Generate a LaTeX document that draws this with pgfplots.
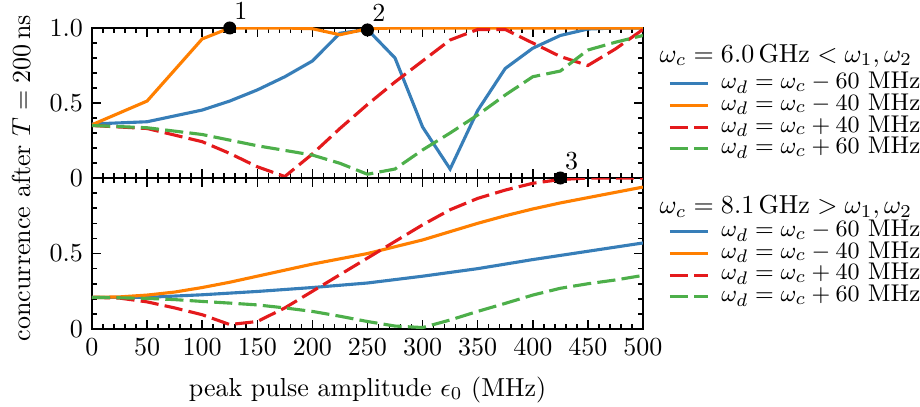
\documentclass[border=0pt]{standalone}
\usepackage{pgfplots}
\pgfplotsset{compat=1.18}
\definecolor{cB}{RGB}{55,126,184}
\definecolor{cO}{RGB}{255,127,0}
\definecolor{cR}{RGB}{228,26,28}
\definecolor{cG}{RGB}{77,175,74}
\begin{document}
\begin{tikzpicture}
\pgfplotsset{
  myax/.style={
    scale only axis, width=211.9pt, xmin=0, xmax=500,
    xtick={0,50,...,500}, minor x tick num=4, minor y tick num=4,
    xtick pos=both, ytick pos=both, tick align=inside,
    major tick length=3.5pt, minor tick length=2pt,
    axis line style={line width=1pt},
    tick style={black, line width=0.6pt},
    tick label style={font=\fontsize{10}{12}\selectfont},
    legend cell align=left,
    legend style={draw=none, fill=none, font=\fontsize{9.3}{11}\selectfont,
      anchor=north west, inner sep=0pt,
      nodes={inner sep=0pt, text height=5.8pt, text depth=2.1pt},
      column sep=4.6pt, row sep=0.45pt},
    legend image code/.code={\draw[##1] (0pt,0pt) -- (14.6pt,0pt);},
  },
  sB/.style={cB, line width=1.2pt},
  sO/.style={cO, line width=1.2pt},
  sR/.style={cR, line width=1.2pt, dash pattern=on 7pt off 2.4pt},
  sG/.style={cG, line width=1.2pt, dash pattern=on 7pt off 2.4pt},
}
\begin{axis}[myax, at={(0,0)}, anchor=south west, height=57.7pt,
  ymin=0, ymax=1, ytick={0,0.5,1}, yticklabels={0,0.5,1.0}, xticklabels={},
  legend style={at={(axis description cs:1.0453,0.70)}}]
\addplot[sB] coordinates {(0,0.36) (50,0.375) (100,0.453) (125,0.513) (150,0.587) (175,0.675) (200,0.78) (225,0.965) (250,0.99) (275,0.80) (300,0.34) (325,0.06) (350,0.45) (375,0.73) (400,0.865) (425,0.95) (450,0.993) (475,1) (500,1)};
\addplot[sO] coordinates {(0,0.355) (50,0.513) (100,0.927) (125,1) (150,1) (175,1) (200,0.995) (225,0.955) (250,0.995) (275,1) (300,1) (325,1) (350,1) (375,1) (400,1) (425,1) (450,1) (475,1) (500,1)};
\addplot[sR] coordinates {(0,0.35) (50,0.33) (100,0.242) (125,0.164) (150,0.075) (175,0.01) (200,0.16) (225,0.33) (250,0.49) (275,0.64) (300,0.78) (325,0.92) (350,0.99) (375,0.99) (400,0.90) (425,0.81) (450,0.75) (475,0.86) (500,0.99)};
\addplot[sG] coordinates {(0,0.35) (50,0.335) (100,0.29) (150,0.215) (200,0.153) (225,0.098) (250,0.025) (275,0.06) (300,0.187) (325,0.30) (350,0.42) (375,0.553) (400,0.675) (425,0.713) (450,0.853) (475,0.905) (500,0.95)};
\addplot[only marks, mark=*, mark size=2.3pt, black, forget plot] coordinates {(125,1) (250,0.987)};
\coordinate (m1) at (axis cs:125,1);
\coordinate (m2) at (axis cs:250,0.987);
\legend{$\omega_d = \omega_c - 60$ MHz, $\omega_d = \omega_c - 40$ MHz, $\omega_d = \omega_c + 40$ MHz, $\omega_d = \omega_c + 60$ MHz}
\end{axis}
\begin{axis}[myax, at={(0,0)}, anchor=north west, height=58.1pt,
  ymin=0, ymax=1, ytick={0,0.5,1}, yticklabels={0,0.5,{}},
  legend style={at={(axis description cs:1.0453,0.716)}}]
\addplot[sB] coordinates {(0,0.21) (50,0.21) (100,0.227) (150,0.249) (200,0.275) (250,0.305) (300,0.35) (350,0.40) (400,0.46) (450,0.515) (500,0.57)};
\addplot[sO] coordinates {(0,0.21) (25,0.213) (50,0.225) (75,0.245) (100,0.275) (125,0.31) (150,0.35) (175,0.39) (200,0.43) (225,0.465) (250,0.50) (275,0.545) (300,0.59) (325,0.645) (350,0.70) (375,0.75) (400,0.795) (425,0.835) (450,0.87) (475,0.905) (500,0.94)};
\addplot[sR] coordinates {(0,0.21) (25,0.205) (50,0.18) (75,0.14) (100,0.095) (125,0.03) (150,0.05) (175,0.14) (200,0.25) (225,0.36) (250,0.47) (275,0.58) (300,0.69) (325,0.79) (350,0.865) (375,0.92) (400,0.965) (425,0.99) (450,1) (475,1) (500,1)};
\addplot[sG] coordinates {(0,0.21) (25,0.207) (50,0.203) (75,0.195) (100,0.183) (125,0.172) (150,0.16) (175,0.14) (200,0.117) (225,0.085) (250,0.05) (275,0.02) (300,0.01) (325,0.06) (350,0.117) (375,0.17) (400,0.225) (425,0.27) (450,0.30) (475,0.325) (500,0.355)};
\addplot[only marks, mark=*, mark size=2.3pt, black, forget plot] coordinates {(425,1)};
\coordinate (m3) at (axis cs:425,1);
\legend{$\omega_d = \omega_c - 60$ MHz, $\omega_d = \omega_c - 40$ MHz, $\omega_d = \omega_c + 40$ MHz, $\omega_d = \omega_c + 60$ MHz}
\end{axis}
\node[font=\fontsize{10}{12}\selectfont] at ([xshift=4.3pt, yshift=6.6pt]m1) {1};
\node[font=\fontsize{10}{12}\selectfont] at ([xshift=4.4pt, yshift=6.6pt]m2) {2};
\node[font=\fontsize{10}{12}\selectfont] at ([xshift=4.4pt, yshift=6.6pt]m3) {3};
\node[anchor=base west, inner sep=0pt, font=\fontsize{9.7}{12}\selectfont] at (218.1pt,44.6pt) {$\omega_c = 6.0\,\mathrm{GHz} < \omega_1, \omega_2$};
\node[anchor=base west, inner sep=0pt, font=\fontsize{9.7}{12}\selectfont] at (218.1pt,-13.6pt) {$\omega_c = 8.1\,\mathrm{GHz} > \omega_1, \omega_2$};
\node[rotate=90, inner sep=0pt, font=\fontsize{10}{12}\selectfont] at (-27.3pt,0pt) {concurrence after $T = 200\,$ns};
\node[anchor=base, inner sep=0pt, font=\fontsize{10}{12}\selectfont] at (106pt,-83.85pt) {peak pulse amplitude $\epsilon_0$ (MHz)};
\pgfresetboundingbox
\useasboundingbox (-35.385pt,-87.69pt) rectangle (318.46pt,68.46pt);
\end{tikzpicture}
\end{document}
